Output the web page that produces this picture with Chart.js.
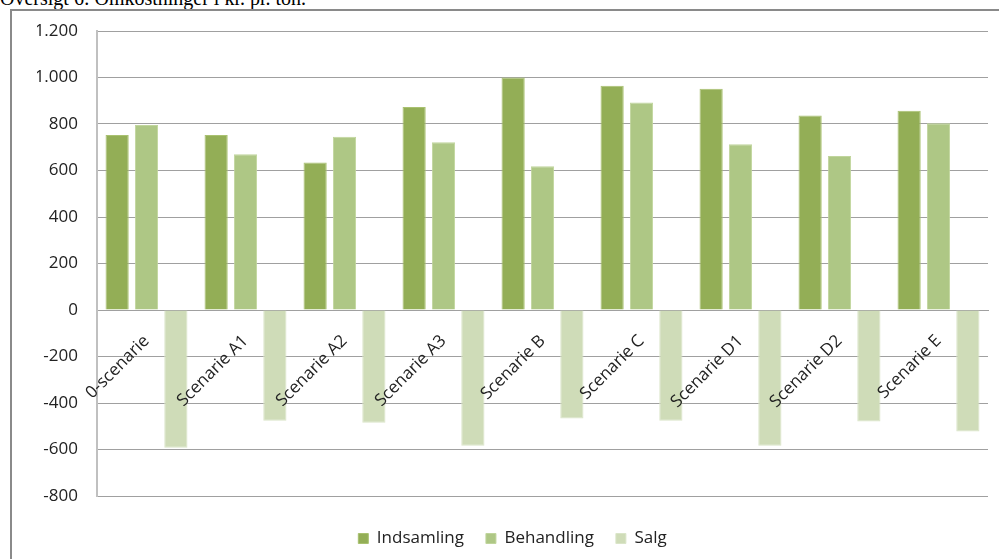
<!DOCTYPE html>
<html>
<head>
<meta charset="utf-8">
<script src="https://cdn.jsdelivr.net/npm/chart.js@4.4.0/dist/chart.umd.min.js"></script>
<style>
  html, body { margin: 0; padding: 0; background: #fff; }
  #wrap { position: relative; width: 999px; height: 559px; overflow: hidden; }
  #doc-title { position: absolute; left: 0; top: -12px; font: 20px/20px "Liberation Serif", serif; color: #000; white-space: nowrap; }
  #frame { position: absolute; left: 10px; top: 9px; width: 1000px; height: 560px; border-left: 2px solid #8a8a8a; border-top: 2px solid #8a8a8a; }
  #chart_cntxt { position: absolute; left: 0; top: 0; }
</style>
</head>
<body>
<div id="wrap">
  <div id="doc-title">Oversigt 6: Omkostninger i kr. pr. ton.</div>
  <div id="frame"></div>
  <canvas id="chart_cntxt" width="999" height="559"></canvas>
</div>
<script>
var scenarier = ["0-scenarie", "Scenarie A1", "Scenarie A2", "Scenarie A3", "Scenarie B", "Scenarie C", "Scenarie D1", "Scenarie D2", "Scenarie E"];
var indsamling = [753, 753, 634, 873, 1000, 965, 952, 837, 857];
var behandling = [796, 670, 745, 721, 618, 893, 713, 662, 803];
var salg = [-592, -476, -485, -584, -467, -476, -584, -480, -523];
var yMin = -800, yMax = 1200, yStep = 200;

function danskTal(v) {
    var s = String(Math.abs(v)).replace(/\B(?=(\d{3})+(?!\d))/g, ".");
    return (v < 0 ? "-" : "") + s;
}

var tekstFont = { family: "'Open Sans', sans-serif", size: 17 };

var current_cntxt = document.getElementById("chart_cntxt").getContext('2d');
var omkostninger_chart = new Chart(current_cntxt, {
    type: 'bar',
    data: {
        labels: scenarier,
        datasets: [{
            label: "Indsamling",
            data: indsamling,
            backgroundColor: '#93ae56',
            borderColor: '#a9c170',
            borderWidth: 1
        }, {
            label: "Behandling",
            data: behandling,
            backgroundColor: '#aec785',
            borderColor: '#c0d59c',
            borderWidth: 1
        }, {
            label: "Salg",
            data: salg,
            backgroundColor: '#cfdcb8',
            borderColor: '#dae5c8',
            borderWidth: 1
        }]
    },
    options: {
        responsive: false,
        animation: false,
        categoryPercentage: 0.89,
        barPercentage: 0.79,
        layout: { padding: { left: 37, right: 11, top: 31, bottom: 2 } },
        plugins: {
            legend: {
                position: 'bottom',
                labels: {
                    boxWidth: 10,
                    boxHeight: 10,
                    padding: 22,
                    color: '#222',
                    font: tekstFont
                }
            },
            tooltip: { enabled: false }
        },
        scales: {
            x: {
                position: { y: 0 },
                grid: { display: false, drawTicks: false },
                border: { display: true, color: '#a0a0a0', width: 1 },
                ticks: {
                    z: 1, // tekst over søjlerne
                    minRotation: 45,
                    maxRotation: 45,
                    padding: 21,
                    color: '#222',
                    font: tekstFont
                },
                afterFit: function (s) { s.height = 0; s.paddingLeft = 0; s.paddingRight = 0; }
            },
            // tom akse, skubber kun forklaringen lidt ned
            x2: {
                axis: 'x',
                type: 'category',
                position: 'bottom',
                grid: { display: false },
                border: { display: false },
                ticks: { display: false },
                afterFit: function (s) { s.height = 12; }
            },
            y: {
                min: yMin,
                max: yMax,
                ticks: {
                    stepSize: yStep,
                    padding: 19,
                    color: '#222',
                    font: tekstFont,
                    callback: function (v) { return danskTal(v); }
                },
                grid: { color: '#a0a0a0', drawTicks: false },
                border: { color: '#c0c0c0', width: 2 },
                afterFit: function (s) { s.width = 60; }
            }
        }
    }
});
</script>
</body>
</html>
